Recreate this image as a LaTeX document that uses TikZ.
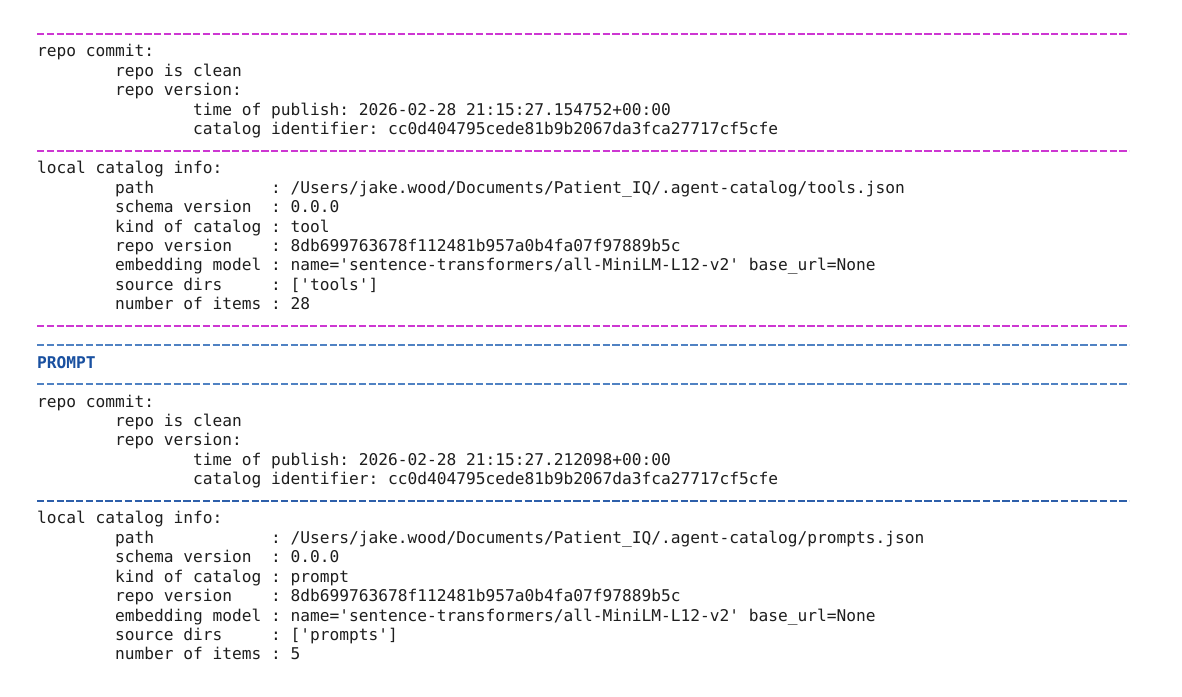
\documentclass[tikz,border=0pt]{standalone}
\usepackage{fontspec}
\setmonofont{DejaVu Sans Mono}
\usetikzlibrary{calc}
\definecolor{txtcol}{RGB}{30,30,30}
\definecolor{magdash}{RGB}{205,55,210}
\definecolor{bluedash}{RGB}{80,130,195}
\definecolor{bluedark}{RGB}{45,95,170}
\definecolor{promptcol}{RGB}{25,80,160}
\newcommand\tline[4]{\node[txt] (#1) at ({37+#3*9.75},{37.5+#2*19.45}) {#4};}
\newcommand\dline[3]{\coordinate (#1a) at (37,{34+#2*19.45});\coordinate (#1b) at (1129,{34+#2*19.45});\draw[#3] (#1a) -- (#1b);}
\begin{document}
\begin{tikzpicture}[x=1pt,y=-1pt,
  txt/.style={anchor=base west,inner sep=0pt,outer sep=0pt,text=txtcol,
    font=\ttfamily\fontsize{16.2}{19.45}\selectfont\frenchspacing},
  dashline/.style={line width=1.8pt,dash pattern=on 7.3pt off 2.45pt},
  magline/.style={dashline,draw=magdash},
  blueline/.style={dashline,draw=bluedash},
  bluedkline/.style={dashline,draw=bluedark},
  prompttxt/.style={txt,text=promptcol,font=\ttfamily\bfseries\fontsize{16.2}{19.45}\selectfont}]
\useasboundingbox[fill=white] (0,0) rectangle (1182,696);
% tool section
\dline{d0}{0}{magline}
\tline{a1}{1}{0}{repo commit:}
\tline{a2}{2}{8}{repo is clean}
\tline{a3}{3}{8}{repo version:}
\tline{a4}{4}{16}{time of publish: 2026-02-28 21:15:27.154752+00:00}
\tline{a5}{5}{16}{catalog identifier: cc0d404795cede81b9b2067da3fca27717cf5cfe}
\dline{d6}{6}{magline}
\tline{a7}{7}{0}{local catalog info:}
\tline{k8}{8}{8}{path}
\tline{v8}{8}{24}{: /Users/jake.wood/Documents/Patient\_IQ/.agent-catalog/tools.json}
\tline{k9}{9}{8}{schema version}
\tline{v9}{9}{24}{: 0.0.0}
\tline{k10}{10}{8}{kind of catalog}
\tline{v10}{10}{24}{: tool}
\tline{k11}{11}{8}{repo version}
\tline{v11}{11}{24}{: 8db699763678f112481b957a0b4fa07f97889b5c}
\tline{k12}{12}{8}{embedding model}
\tline{v12}{12}{24}{: name='sentence-transformers/all-MiniLM-L12-v2' base\_url=None}
\tline{k13}{13}{8}{source dirs}
\tline{v13}{13}{24}{: ['tools']}
\tline{k14}{14}{8}{number of items}
\tline{v14}{14}{24}{: 28}
\dline{d15}{15}{magline}
% prompt section
\dline{d16}{16}{blueline}
\node[prompttxt] (p17) at (37,{37.5+17*19.45}) {PROMPT};
\dline{d18}{18}{blueline}
\tline{b19}{19}{0}{repo commit:}
\tline{b20}{20}{8}{repo is clean}
\tline{b21}{21}{8}{repo version:}
\tline{b22}{22}{16}{time of publish: 2026-02-28 21:15:27.212098+00:00}
\tline{b23}{23}{16}{catalog identifier: cc0d404795cede81b9b2067da3fca27717cf5cfe}
\dline{d24}{24}{bluedkline}
\tline{b25}{25}{0}{local catalog info:}
\tline{k26}{26}{8}{path}
\tline{v26}{26}{24}{: /Users/jake.wood/Documents/Patient\_IQ/.agent-catalog/prompts.json}
\tline{k27}{27}{8}{schema version}
\tline{v27}{27}{24}{: 0.0.0}
\tline{k28}{28}{8}{kind of catalog}
\tline{v28}{28}{24}{: prompt}
\tline{k29}{29}{8}{repo version}
\tline{v29}{29}{24}{: 8db699763678f112481b957a0b4fa07f97889b5c}
\tline{k30}{30}{8}{embedding model}
\tline{v30}{30}{24}{: name='sentence-transformers/all-MiniLM-L12-v2' base\_url=None}
\tline{k31}{31}{8}{source dirs}
\tline{v31}{31}{24}{: ['prompts']}
\tline{k32}{32}{8}{number of items}
\tline{v32}{32}{24}{: 5}
\end{tikzpicture}
\end{document}
